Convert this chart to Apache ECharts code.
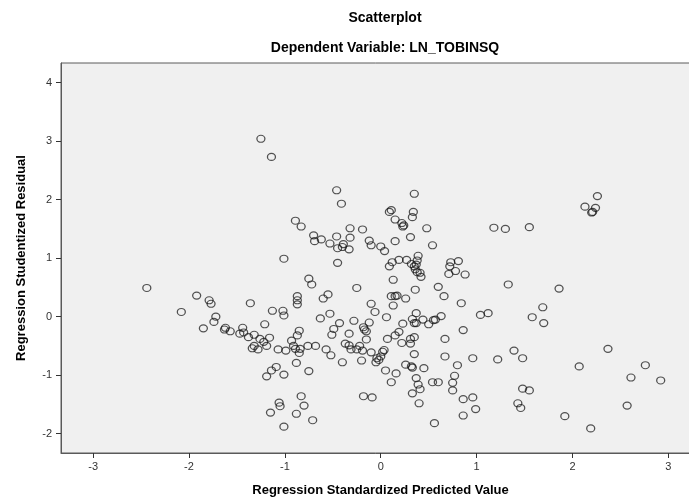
<!DOCTYPE html>
<html>
<head>
<meta charset="utf-8">
<script src="https://cdn.jsdelivr.net/npm/echarts@6/dist/echarts.min.js"></script>
<style>
  html, body { margin: 0; padding: 0; background: #fff; }
  #chart { width: 689px; height: 499px; }
</style>
</head>
<body>
<div id="chart"></div>
<script>
// Regression Standardized Predicted Value (x)
var predicted = [
  -1.25, -1.14, -0.89, -0.83, -1.01, -2.44, -1.92, -1.79, -1.77, -2.08,
  -1.36, -1.72, -1.74, -1.85, -1.62, -1.63, -1.57, -1.44, -1.43, -1.47,
  -1.32, -1.38, -1.21, -1.13, -1.02, -1.01, -1.26, -1.16, -1.22, -1.19,
  -1.32, -1.34, -1.28, -1.07, -0.99, -0.93, -0.91, -0.89, -0.84, -0.85,
  -0.85, -0.87, -0.87, -0.87, -0.87, -0.88, -1.09, -1.14, -1.19, -1.01,
  -0.83, -1.06, -1.05, -1.15, -0.88, -1.01, -0.80, -0.71, -0.75,
  -0.46, -0.41, 0.35, 0.09, 0.11, 0.34, 0.33, 0.15, 0.22, 0.24,
  0.23, 0.48, 1.18, -0.70, -0.69, -0.62, -0.53, -0.46, -0.32, -0.32,
  -0.19, -0.45, -0.40, -0.39, -0.33, -0.45, -0.12, -0.10, 0.00, 0.04,
  0.15, 0.31, 0.54, 0.09, 0.12, 0.19, 0.27, 0.32, 0.35, 0.37,
  0.38, 0.39, 0.36, 0.38, 0.41, 0.42, 0.13, 0.73, 0.72, 0.71,
  0.78, 0.81, 0.88, 0.60, 0.36, -0.25, -0.75, -0.72,
  0.66, 0.84, -0.60, -0.55, -0.53, -0.63, -0.43, -0.49, -0.51, -0.28,
  -0.33, -0.10, -0.06, -0.12, -0.18, -0.17, -0.15, -0.15, 0.06, 0.11,
  0.15, 0.17, 0.13, 0.26, 0.37, 0.33, 0.35, 0.37, 0.44, 0.50,
  0.55, 0.57, 0.63, 0.23, 0.19, 0.15, 0.07, 0.22, 0.31, 0.35,
  0.31, 0.67, 0.86, 1.04, 1.12, -0.76, -0.68, -0.57, -0.52, -0.37,
  -0.33, -0.31, -0.25, -0.22, -0.19, -0.10, -0.04, -0.02, 0.00, 0.02,
  0.035, -0.05, -0.20, -0.40, 0.35, 0.26, 0.32, 0.33, 0.45, 0.05,
  0.16, 0.11, 0.37, 0.39, 0.41, 0.33, 0.54, 0.60, 0.67, 0.80,
  0.77, 0.75, 0.75, 0.96, 1.22, 0.86, 0.96, 0.99, 0.86, 0.40,
  0.56, -0.18, -0.09,
  2.26, 2.13, 2.24, 2.20, 2.21, 1.30, 1.55, 1.33, 1.86, 1.69,
  1.58, 1.70, 1.39, 1.48, 2.37, 2.07, 2.76, 2.61, 2.92, 1.48,
  1.55, 1.43, 1.46, 2.57, 1.92, 2.19
];

// Regression Studentized Residual (y)
var residual = [
  3.04, 2.73, 1.64, 1.54, 0.99, 0.49, 0.36, 0.28, 0.22, 0.08,
  0.23, 0.00, -0.09, -0.20, -0.19, -0.22, -0.25, -0.19, -0.27, -0.29,
  -0.31, -0.35, -0.13, 0.10, 0.10, 0.02, -0.38, -0.36, -0.43, -0.50,
  -0.50, -0.54, -0.56, -0.56, -0.58, -0.41, -0.50, -0.55, -0.55, -0.62,
  -0.24, -0.32, 0.35, 0.28, 0.21, -0.79, -0.86, -0.92, -1.02, -0.99,
  -1.36, -1.47, -1.53, -1.64, -1.66, -1.88, -1.52, -1.77, -0.93,
  2.16, 1.93, 2.10, 1.79, 1.82, 1.79, 1.70, 1.66, 1.60, 1.56,
  1.54, 1.51, 1.52, 1.39, 1.29, 1.32, 1.25, 1.37, 1.51, 1.35,
  1.49, 1.17, 1.19, 1.24, 1.15, 0.92, 1.30, 1.22, 1.20, 1.12,
  1.29, 1.36, 1.22, 0.86, 0.93, 0.97, 0.97, 0.90, 0.86, 0.89,
  0.96, 1.04, 0.81, 0.76, 0.75, 0.68, 0.63, 0.93, 0.86, 0.73,
  0.78, 0.95, 0.72, 0.51, 0.46, 0.49, 0.65, 0.55,
  0.35, 0.23, 0.31, 0.38, 0.05, -0.03, -0.11, -0.21, -0.31, -0.07,
  -0.29, 0.22, 0.08, -0.10, -0.18, -0.22, -0.25, -0.39, -0.01, 0.35,
  0.35, 0.36, 0.19, 0.31, 0.06, -0.04, -0.11, -0.11, -0.05, -0.13,
  -0.06, -0.05, 0.01, -0.12, -0.26, -0.32, -0.38, -0.45, -0.38, -0.35,
  -0.46, -0.38, -0.23, 0.03, 0.06, -0.50, -0.50, -0.56, -0.66, -0.46,
  -0.49, -0.56, -0.56, -0.50, -0.58, -0.61, -0.71, -0.74, -0.68, -0.60,
  -0.57, -0.78, -0.75, -0.78, -0.64, -0.82, -0.85, -0.87, -0.88, -0.92,
  -0.97, -1.12, -1.05, -1.16, -1.24, -1.31, -1.12, -1.12, -0.68, -0.83,
  -1.01, -1.13, -1.26, -0.71, -0.73, -1.41, -1.38, -1.58, -1.69, -1.48,
  -1.82, -1.36, -1.38,
  2.06, 1.88, 1.86, 1.78, 1.79, 1.50, 1.53, 0.55, 0.48, 0.16,
  -0.01, -0.11, -0.58, -0.71, -0.55, -0.85, -0.83, -1.04, -1.09, -1.23,
  -1.26, -1.48, -1.56, -1.52, -1.70, -1.91
];

var xTicks = [-3, -2, -1, 0, 1, 2, 3];
var yTicks = [-2, -1, 0, 1, 2, 3, 4];

var points = [];
for (var i = 0; i < predicted.length; i++) {
  points.push([predicted[i], residual[i]]);
}

var font = "'Liberation Sans', Arial, sans-serif";

var option = {
  backgroundColor: '#ffffff',
  animation: false,
  title: [
    {
      text: 'Scatterplot',
      left: 380,
      top: 6,
      textAlign: 'center',
      textStyle: { fontFamily: font, fontSize: 14, fontWeight: 'bold', color: '#000' }
    },
    {
      text: 'Dependent Variable: LN_TOBINSQ',
      left: 380,
      top: 36,
      textAlign: 'center',
      textStyle: { fontFamily: font, fontSize: 14, fontWeight: 'bold', color: '#000' }
    }
  ],
  grid: {
    left: 61,
    top: 63,
    width: 639,
    height: 390,
    outerBoundsMode: 'none',
    show: true,
    backgroundColor: '#f0f0f0',
    borderColor: '#5a5a5a',
    borderWidth: 1
  },
  xAxis: {
    type: 'value',
    min: -3.335,
    max: 3.33,
    name: 'Regression Standardized Predicted Value',
    nameLocation: 'middle',
    nameGap: 31,
    nameTextStyle: { fontFamily: font, fontSize: 13, fontWeight: 'bold', color: '#000' },
    axisLine: { show: true, onZero: false, lineStyle: { color: '#5a5a5a', width: 1 } },
    axisTick: { show: true, length: 5, customValues: xTicks, lineStyle: { color: '#333' } },
    axisLabel: { customValues: xTicks, margin: 8, fontFamily: font, fontSize: 11, color: '#333' },
    splitLine: { show: false }
  },
  yAxis: {
    type: 'value',
    min: -2.33,
    max: 4.335,
    name: 'Regression Studentized Residual',
    nameLocation: 'middle',
    nameGap: 33,
    nameTextStyle: { fontFamily: font, fontSize: 13, fontWeight: 'bold', color: '#000' },
    axisLine: { show: true, onZero: false, lineStyle: { color: '#5a5a5a', width: 1 } },
    axisTick: { show: true, length: 5, customValues: yTicks, lineStyle: { color: '#333' } },
    axisLabel: { customValues: yTicks, margin: 9, fontFamily: font, fontSize: 11, color: '#333' },
    splitLine: { show: false }
  },
  series: [
    {
      type: 'scatter',
      data: points,
      symbol: 'circle',
      symbolSize: [8, 7],
      itemStyle: {
        color: 'rgba(0,0,0,0)',
        borderColor: 'rgba(20,20,20,0.9)',
        borderWidth: 1.2
      }
    }
  ]
};

var chart = echarts.init(document.getElementById('chart'));
chart.setOption(option);
</script>
</body>
</html>
